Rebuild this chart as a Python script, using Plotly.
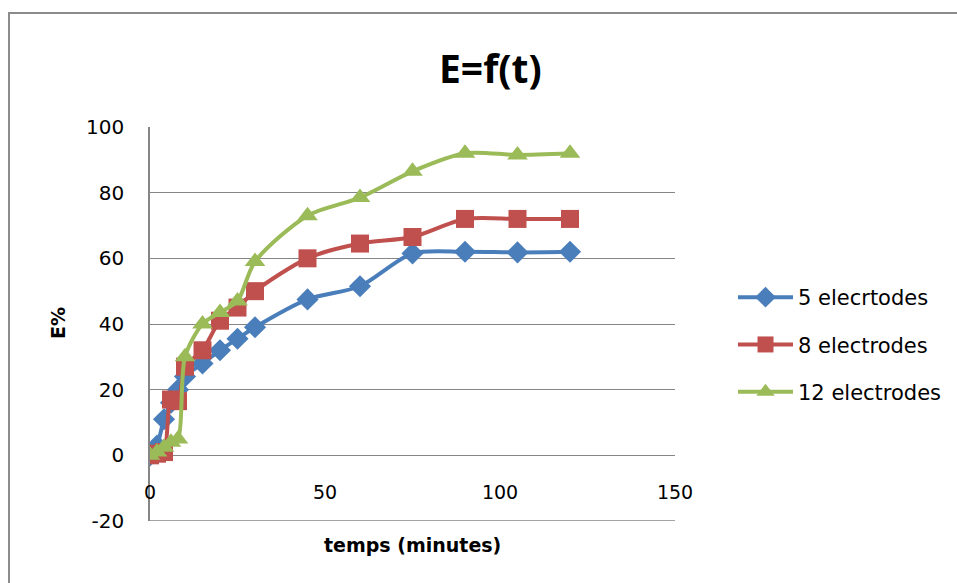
import plotly.graph_objects as go

temps = [0, 2, 4, 6, 8, 10, 15, 20, 25, 30, 45, 60, 75, 90, 105, 120]
e5 = [0, 3, 11, 16, 20, 24, 28, 32, 35.5, 39, 47.5, 51.5, 61.5, 62, 61.8, 62]
e8 = [0, 0.5, 1, 17, 16.5, 27, 32, 41, 45, 50, 60, 64.5, 66.5, 72, 72, 72]
e12 = [0, 1, 2.5, 4, 5, 30, 40, 43.5, 47, 59, 73, 78.5, 86.5, 92, 91.5, 92]
names = ["5 elecrtodes", "8 electrodes", "12 electrodes"]
colors = ["#4A7EBB", "#C0504D", "#9BBB59"]
symbols = ["diamond", "square", "triangle-up"]
msizes = [17, 18, 18]
y_ticks = [-20, 0, 20, 40, 60, 80, 100]
y_ticktext = ["-20", "0", "20", "40", "60", "80", "100"]
x_ticks = [0, 50, 100, 150]
x_ticktext = ["0", "50", "100", "150"]

FONT = "DejaVu Sans"
W, H = 957, 583
L, R, T, B = 150, 675, 127, 521
pw, ph = R - L, B - T
YMIN, YMAX = -20, 100

def px(x):
    return (x - L) / pw

def py(y):
    return (B - y) / ph

fig = go.Figure()
for i, ys in enumerate([e5, e8, e12]):
    fig.add_trace(go.Scatter(
        x=temps, y=ys, name=names[i], mode="lines+markers",
        line=dict(color=colors[i], width=4, shape="spline", smoothing=0.8),
        marker=dict(symbol=symbols[i], size=msizes[i], color=colors[i]),
        legendgroup=str(i),
    ))

fig.update_layout(
    width=W, height=H,
    margin=dict(l=L, r=W - R, t=T, b=H - B, autoexpand=False),
    paper_bgcolor="white", plot_bgcolor="white",
    font=dict(family=FONT, size=19, color="black"),
    showlegend=True,
    legend=dict(x=px(733), y=py(277), xanchor="left", yanchor="top",
                font=dict(size=21, family=FONT), itemwidth=55,
                tracegroupgap=17, bgcolor="rgba(0,0,0,0)"),
    xaxis=dict(range=[0, 150], tickvals=x_ticks, ticktext=x_ticktext,
               showgrid=False, zeroline=False,
               anchor="free", position=(0 - YMIN) / (YMAX - YMIN),
               showline=False, ticks="", ticklabelstandoff=24,
               tickfont=dict(size=19, family=FONT)),
    yaxis=dict(range=[YMIN, YMAX], tickvals=y_ticks, ticktext=y_ticktext,
               showgrid=True, gridcolor="#868686",
               gridwidth=1.2, zeroline=True, zerolinecolor="#868686", zerolinewidth=1.2,
               showline=True, linecolor="#868686", linewidth=1.5,
               ticks="", ticklabelstandoff=20,
               tickfont=dict(size=20, family=FONT)),
    shapes=[
        dict(type="rect", xref="paper", yref="paper",
             x0=px(9), x1=px(1000), y0=py(600), y1=py(13),
             line=dict(color="#8C8C8C", width=2), layer="below"),
        dict(type="line", xref="paper", yref="y", x0=0, x1=1, y0=YMIN, y1=YMIN,
             line=dict(color="#868686", width=1.5), layer="below"),
    ],
    annotations=[
        dict(text="<b>E=f(t)</b>", x=px(490), y=py(67), xref="paper", yref="paper",
             showarrow=False, font=dict(size=39, family="Open Sans"),
             xanchor="center", yanchor="middle"),
        dict(text="<b>E%</b>", x=px(58), y=py(323), xref="paper", yref="paper",
             showarrow=False, textangle=-90, font=dict(size=19, family=FONT),
             xanchor="center", yanchor="middle"),
        dict(text="<b>temps (minutes)</b>", x=px(412), y=py(545), xref="paper", yref="paper",
             showarrow=False, font=dict(size=19, family=FONT),
             xanchor="center", yanchor="middle"),
    ],
)

fig.write_html("out.html")
